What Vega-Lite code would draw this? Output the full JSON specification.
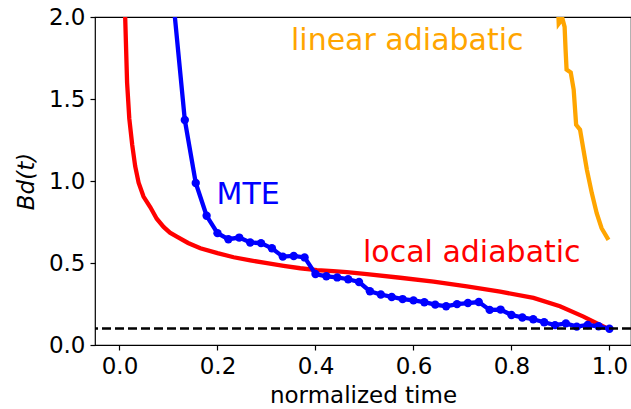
{
  "$schema": "https://vega.github.io/schema/vega-lite/v6.json",
  "width": 536,
  "height": 328,
  "autosize": {"type": "none"},
  "padding": {"left": 95, "top": 17, "right": 0, "bottom": 64},
  "config": {
    "font": "DejaVu Sans",
    "view": {"stroke": "black", "strokeWidth": 1.2},
    "axis": {
      "grid": false,
      "domain": false,
      "tickColor": "black",
      "tickSize": 5,
      "tickWidth": 1.2,
      "labelColor": "black",
      "labelFont": "DejaVu Sans",
      "labelFontSize": 23,
      "titleFont": "DejaVu Sans",
      "titleFontSize": 23,
      "titleFontWeight": "normal",
      "titleColor": "black"
    }
  },
  "datasets": {
    "local": [
      {"t": 0.009, "B": 2.6}, {"t": 0.0116, "B": 2.0}, {"t": 0.0155, "B": 1.6},
      {"t": 0.020, "B": 1.38}, {"t": 0.026, "B": 1.22}, {"t": 0.032, "B": 1.09},
      {"t": 0.039, "B": 0.99}, {"t": 0.049, "B": 0.905}, {"t": 0.063, "B": 0.84},
      {"t": 0.076, "B": 0.77}, {"t": 0.090, "B": 0.72}, {"t": 0.103, "B": 0.685},
      {"t": 0.117, "B": 0.661}, {"t": 0.140, "B": 0.622}, {"t": 0.165, "B": 0.59},
      {"t": 0.200, "B": 0.56}, {"t": 0.233, "B": 0.535}, {"t": 0.267, "B": 0.516},
      {"t": 0.301, "B": 0.499}, {"t": 0.335, "B": 0.483}, {"t": 0.369, "B": 0.468},
      {"t": 0.403, "B": 0.457}, {"t": 0.436, "B": 0.451}, {"t": 0.464, "B": 0.444},
      {"t": 0.505, "B": 0.432}, {"t": 0.573, "B": 0.41}, {"t": 0.641, "B": 0.386},
      {"t": 0.709, "B": 0.357}, {"t": 0.777, "B": 0.325}, {"t": 0.845, "B": 0.287},
      {"t": 0.899, "B": 0.236}, {"t": 0.947, "B": 0.173}, {"t": 0.981, "B": 0.122},
      {"t": 0.995, "B": 0.102}
    ],
    "mte": [
      {"t": 0.1111, "B": 2.06}, {"t": 0.1333, "B": 1.372}, {"t": 0.1556, "B": 0.988},
      {"t": 0.1778, "B": 0.788}, {"t": 0.2, "B": 0.682}, {"t": 0.2222, "B": 0.645},
      {"t": 0.2444, "B": 0.655}, {"t": 0.2667, "B": 0.625}, {"t": 0.2889, "B": 0.621},
      {"t": 0.3111, "B": 0.59}, {"t": 0.3333, "B": 0.539}, {"t": 0.3556, "B": 0.543},
      {"t": 0.3778, "B": 0.534}, {"t": 0.4, "B": 0.433}, {"t": 0.4222, "B": 0.419},
      {"t": 0.4444, "B": 0.412}, {"t": 0.4667, "B": 0.401}, {"t": 0.4889, "B": 0.384},
      {"t": 0.5111, "B": 0.328}, {"t": 0.5333, "B": 0.308}, {"t": 0.5556, "B": 0.293},
      {"t": 0.5778, "B": 0.28}, {"t": 0.6, "B": 0.272}, {"t": 0.6222, "B": 0.261},
      {"t": 0.6444, "B": 0.246}, {"t": 0.6667, "B": 0.236}, {"t": 0.6889, "B": 0.249},
      {"t": 0.7111, "B": 0.256}, {"t": 0.7333, "B": 0.262}, {"t": 0.7556, "B": 0.214},
      {"t": 0.7778, "B": 0.216}, {"t": 0.8, "B": 0.183}, {"t": 0.8222, "B": 0.168},
      {"t": 0.8444, "B": 0.157}, {"t": 0.8667, "B": 0.139}, {"t": 0.8889, "B": 0.121},
      {"t": 0.9111, "B": 0.132}, {"t": 0.9333, "B": 0.112}, {"t": 0.9556, "B": 0.122},
      {"t": 0.9778, "B": 0.114}, {"t": 1.0, "B": 0.099}
    ],
    "linear": [
      {"t": 0.894, "B": 2.15}, {"t": 0.8965, "B": 1.96}, {"t": 0.904, "B": 1.99},
      {"t": 0.9085, "B": 1.94}, {"t": 0.9105, "B": 1.8}, {"t": 0.9125, "B": 1.68},
      {"t": 0.921, "B": 1.662}, {"t": 0.927, "B": 1.557}, {"t": 0.932, "B": 1.343},
      {"t": 0.940, "B": 1.313}, {"t": 0.947, "B": 1.19}, {"t": 0.954, "B": 1.068},
      {"t": 0.964, "B": 0.926}, {"t": 0.974, "B": 0.804}, {"t": 0.984, "B": 0.712},
      {"t": 0.998, "B": 0.641}
    ],
    "labels": [
      {"t": 0.35, "B": 1.8, "label": "linear adiabatic"},
      {"t": 0.198, "B": 0.86, "label": "MTE"},
      {"t": 0.497, "B": 0.506, "label": "local adiabatic"}
    ],
    "ref": [{"B": 0.1}]
  },
  "encoding": {
    "x": {
      "field": "t", "type": "quantitative",
      "scale": {"domain": [-0.05, 1.044], "nice": false, "zero": false},
      "axis": {"title": "normalized time", "values": [0, 0.2, 0.4, 0.6, 0.8, 1.0], "format": ".1f", "labelPadding": 5, "titlePadding": 6}
    },
    "y": {
      "field": "B", "type": "quantitative",
      "scale": {"domain": [0, 2], "nice": false},
      "axis": {"title": "Bd(t)", "titleFontStyle": "italic", "values": [0, 0.5, 1.0, 1.5, 2.0], "format": ".1f", "labelPadding": 5, "titlePadding": 10}
    }
  },
  "layer": [
    {
      "data": {"name": "local"},
      "mark": {"type": "line", "color": "#ff0000", "strokeWidth": 4.3, "clip": true}
    },
    {
      "data": {"name": "mte"},
      "mark": {"type": "line", "color": "#0000ff", "strokeWidth": 4.3, "clip": true,
               "point": {"filled": true, "size": 70, "color": "#0000ff", "opacity": 1}}
    },
    {
      "data": {"name": "linear"},
      "mark": {"type": "line", "color": "#ffa500", "strokeWidth": 4.3, "clip": true}
    },
    {
      "data": {"name": "ref"},
      "mark": {"type": "rule", "color": "black", "strokeWidth": 2.5, "strokeDash": [9, 4]},
      "encoding": {"x": null, "y": {"field": "B", "type": "quantitative"}}
    },
    {
      "data": {"name": "labels"},
      "mark": {"type": "text", "align": "left", "baseline": "alphabetic", "fontSize": 30, "font": "DejaVu Sans"},
      "encoding": {
        "text": {"field": "label"},
        "color": {"field": "label", "type": "nominal",
                  "scale": {"domain": ["linear adiabatic", "MTE", "local adiabatic"], "range": ["#ffa500", "#0000ff", "#ff0000"]},
                  "legend": null}
      }
    }
  ]
}
